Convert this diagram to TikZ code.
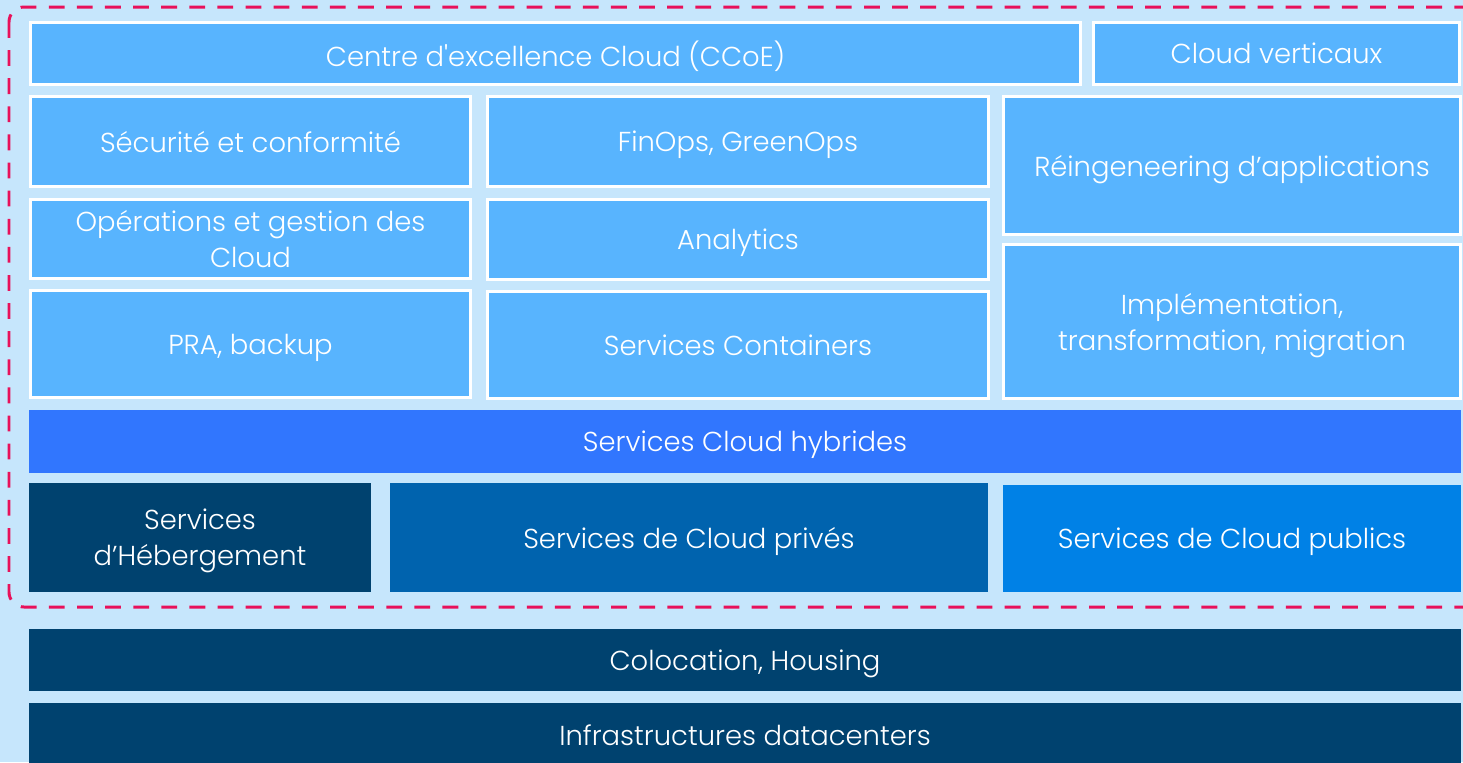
\documentclass[tikz,border=0pt]{standalone}
\usepackage{fontspec}
\setmainfont{Poppins Light}[Ligatures=TeXOff]
\usepackage{tikz}
\usetikzlibrary{positioning}

\definecolor{pageblue}{HTML}{C6E6FC}
\definecolor{tileblue}{HTML}{58B4FE}
\definecolor{hybridblue}{HTML}{3176FE}
\definecolor{navyblue}{HTML}{00426F}
\definecolor{privateblue}{HTML}{0063AE}
\definecolor{publicblue}{HTML}{0081E6}
\definecolor{framered}{HTML}{E8115A}

\begin{document}
\begin{tikzpicture}[x=0.02cm, y=-0.02cm,
    box/.style={inner sep=0pt, align=center, text=white, text depth=0pt,
        font=\fontsize{15.6}{20.5}\selectfont},
    tile/.style={box, fill=tileblue, draw=white, line width=1.7pt},
    block/.style={box, fill=#1}]
    \fill[pageblue] (0,0) rectangle (1463,762);
    \useasboundingbox (0,0) rectangle (1463,762);

    % upper tiles
    \node[tile, minimum width=21cm, minimum height=1.24cm] (ccoe) at (555.5,53.5) {Centre d'excellence Cloud (CCoE)};
    \node[tile, minimum width=7.32cm, minimum height=1.24cm] (vertical) at (1276.5,53.5) {Cloud verticaux};
    \node[tile, minimum width=8.8cm, minimum height=1.8cm] (security) at (250.5,141.5) {Sécurité et conformité};
    \node[tile, minimum width=10.02cm, minimum height=1.8cm] (finops) at (738,141.5) {FinOps, GreenOps};
    \node[tile, minimum width=9.14cm, minimum height=2.76cm] (reeng) at (1232,165.5) {Réingeneering d’applications};
    \node[tile, minimum width=8.8cm, minimum height=1.58cm] (operations) at (250.5,239) {Opérations et gestion des\\Cloud};
    \node[tile, minimum width=10.02cm, minimum height=1.6cm] (analytics) at (738,239.5) {Analytics};
    \node[tile, minimum width=9.14cm, minimum height=3.08cm] (implement) at (1232,321.5) {Implémentation,\\transformation, migration};
    \node[tile, minimum width=8.8cm, minimum height=2.14cm] (pra) at (250.5,344) {PRA, backup};
    \node[tile, minimum width=10.02cm, minimum height=2.14cm] (containers) at (738,345) {Services Containers};

    % cloud services
    \node[block=hybridblue, minimum width=28.64cm, minimum height=1.26cm] (hybrid) at (745,441.5) {Services Cloud hybrides};
    \node[block=navyblue, minimum width=6.84cm, minimum height=2.18cm] (hosting) at (200,537.5) {Services\\d’Hébergement};
    \node[block=privateblue, minimum width=11.96cm, minimum height=2.18cm] (private) at (689,537.5) {Services de Cloud privés};
    \node[block=publicblue, minimum width=9.16cm, minimum height=2.14cm] (public) at (1232,538.5) {Services de Cloud publics};

    % dashed frame
    \draw[framered, line width=1.7pt, dash pattern=on 9pt off 7pt, rounded corners=0.3cm] (9,7) rectangle (1478,607);

    % base layers
    \node[block=navyblue, minimum width=28.64cm, minimum height=1.24cm] (colocation) at (745,660) {Colocation, Housing};
    \node[block=navyblue, minimum width=28.64cm, minimum height=1.28cm] (datacenter) at (745,735) {Infrastructures datacenters};
\end{tikzpicture}
\end{document}
